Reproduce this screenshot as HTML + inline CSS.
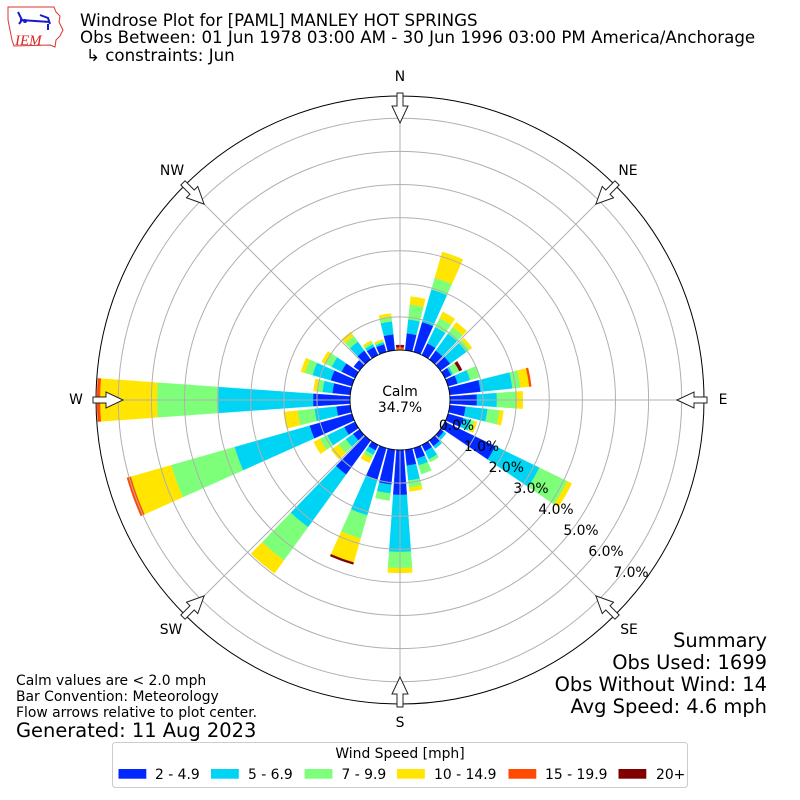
<!DOCTYPE html>
<html><head><meta charset="utf-8"><style>
html,body{margin:0;padding:0;background:#fff;}
svg{display:block;font-family:"DejaVu Sans","Liberation Sans",sans-serif;}
</style></head><body>
<svg id="s" width="800" height="800" viewBox="0 0 800 800" xmlns="http://www.w3.org/2000/svg">
<rect width="800" height="800" fill="#fff"/>
<!-- logo -->
<g>
<path d="M8,7 L54,7 L56,12 L60,16 L59,22 L63,30 L60,36 L56,40 L55,47 L50,45 L14,46 L12,40 L10,30 L8,20 Z" fill="none" stroke="#d33" stroke-width="1"/>
<path d="M20,20 L50,22" stroke="#1a1acc" stroke-width="2"/>
<path d="M18,12 L22,20 L19,24 M40,15 L48,18 L50,24 M48,24 L48,30" stroke="#1a1acc" stroke-width="2" fill="none"/>
<circle cx="25" cy="21" r="2" fill="#1a1acc"/>
<text x="15" y="45" font-family="Liberation Serif,serif" font-style="italic" font-size="15" fill="#d22">IEM</text>
</g>
<g id="bars"></g>
<g fill="none" stroke="#b0b0b0" stroke-width="1">
<circle cx="400" cy="400" r="83.1"/><circle cx="400" cy="400" r="116.2"/><circle cx="400" cy="400" r="149.3"/>
<circle cx="400" cy="400" r="182.4"/><circle cx="400" cy="400" r="215.5"/><circle cx="400" cy="400" r="248.6"/>
<circle cx="400" cy="400" r="281.7"/>
<line x1="400" y1="350" x2="400" y2="96"/><line x1="435.36" y1="364.64" x2="614.96" y2="185.04"/>
<line x1="450" y1="400" x2="704" y2="400"/><line x1="435.36" y1="435.36" x2="614.96" y2="614.96"/>
<line x1="400" y1="450" x2="400" y2="704"/><line x1="364.64" y1="435.36" x2="185.04" y2="614.96"/>
<line x1="350" y1="400" x2="96" y2="400"/><line x1="364.64" y1="364.64" x2="185.04" y2="185.04"/>
</g>
<circle cx="400" cy="400" r="50" fill="#fff" stroke="#000" stroke-width="0.9"/>
<circle cx="400" cy="400" r="304" fill="none" stroke="#000" stroke-width="1"/>
<g fill="#fff" stroke="#222" stroke-width="1">
<polygon points="400,123 408,106 403,106 403,93 397,93 397,106 392,106"/>
<polygon points="400,123 408,106 403,106 403,93 397,93 397,106 392,106" transform="rotate(45 400 400)"/>
<polygon points="400,123 408,106 403,106 403,93 397,93 397,106 392,106" transform="rotate(90 400 400)"/>
<polygon points="400,123 408,106 403,106 403,93 397,93 397,106 392,106" transform="rotate(135 400 400)"/>
<polygon points="400,123 408,106 403,106 403,93 397,93 397,106 392,106" transform="rotate(180 400 400)"/>
<polygon points="400,123 408,106 403,106 403,93 397,93 397,106 392,106" transform="rotate(225 400 400)"/>
<polygon points="400,123 408,106 403,106 403,93 397,93 397,106 392,106" transform="rotate(270 400 400)"/>
<polygon points="400,123 408,106 403,106 403,93 397,93 397,106 392,106" transform="rotate(315 400 400)"/>
</g>
<g font-size="13.9" text-anchor="middle" fill="#000">
<text x="400" y="81">N</text>
<text x="628" y="175">NE</text>
<text x="723" y="404">E</text>
<text x="629" y="634">SE</text>
<text x="400" y="727">S</text>
<text x="171" y="634">SW</text>
<text x="76" y="404">W</text>
<text x="172" y="175">NW</text>
<text x="400" y="396">Calm</text>
<text x="400" y="412">34.7%</text>
<text x="456.5" y="430">0.0%</text>
<text x="481.5" y="451">1.0%</text>
<text x="506.3" y="472">2.0%</text>
<text x="531" y="493">3.0%</text>
<text x="556" y="514">4.0%</text>
<text x="581" y="535">5.0%</text>
<text x="606" y="556">6.0%</text>
<text x="631" y="577">7.0%</text>
</g>
<g font-size="16.67" fill="#000">
<text x="80" y="26">Windrose Plot for [PAML] MANLEY HOT SPRINGS</text>
<text x="80" y="43">Obs Between: 01 Jun 1978 03:00 AM - 30 Jun 1996 03:00 PM America/Anchorage</text>
<text x="86" y="61">↳ constraints: Jun</text>
</g>
<g font-size="13.9" fill="#000">
<text x="16" y="685">Calm values are &lt; 2.0 mph</text>
<text x="16" y="701">Bar Convention: Meteorology</text>
<text x="16" y="717">Flow arrows relative to plot center.</text>
</g>
<text x="16" y="737" font-size="19.44" fill="#000">Generated: 11 Aug 2023</text>
<g font-size="19.44" text-anchor="end" fill="#000">
<text x="767" y="647">Summary</text>
<text x="767" y="669">Obs Used: 1699</text>
<text x="767" y="691">Obs Without Wind: 14</text>
<text x="767" y="713">Avg Speed: 4.6 mph</text>
</g>
<rect x="112.5" y="742.5" width="575" height="45" rx="3" fill="#fff" stroke="#cccccc" stroke-width="1"/>
<text x="400" y="758" font-size="13.9" text-anchor="middle">Wind Speed [mph]</text>
<rect x="118.5" y="769" width="27.8" height="9.7" fill="#0028ff"/>
<rect x="211" y="769" width="27.8" height="9.7" fill="#00d4f5"/>
<rect x="304.6" y="769" width="27.8" height="9.7" fill="#7dff7a"/>
<rect x="397" y="769" width="27.8" height="9.7" fill="#ffe500"/>
<rect x="508.5" y="769" width="27.8" height="9.7" fill="#ff4a00"/>
<rect x="618.5" y="769" width="27.8" height="9.7" fill="#800000"/>
<g font-size="13.9" fill="#000">
<text x="155" y="779">2 - 4.9</text>
<text x="248" y="779">5 - 6.9</text>
<text x="341.5" y="779">7 - 9.9</text>
<text x="434" y="779">10 - 14.9</text>
<text x="545" y="779">15 - 19.9</text>
<text x="656" y="779">20+</text>
</g>
</svg>
<script>
(function(){
var C=["#0028ff","#00d4f5","#7dff7a","#ffe500","#ff4a00","#800000"];
var D={0:[50,50,50,51,53,55],10:[67,81,96,104],20:[81,115,127,154],30:[63,81,91,98],40:[61,82,90,96],
50:[62,82,86,89],60:[57,59,66,66,66,69],70:[60,73,83],80:[81,113,121,130,132],90:[77,97,117,123],
100:[66,88,100,104],110:[66,74,77,80],120:[106,155,186,191],130:[54,57],140:[57,60],150:[57,66,69],
160:[61,68,77],170:[66,81,88,92],180:[95,152,168,173],190:[85,94,101],200:[83,120,144,169,169,171],
210:[56,61,65,70],220:[92,157,198,214],230:[58,67,76,85],240:[62,81,89,96],250:[94,172,238,280,284],
260:[64,86,103,117],270:[87,182,243,300,303],280:[68,78,83,87],290:[72,91,99,103],300:[65,76,83,87],
310:[57],320:[61,72,79,84],330:[59,62,64,66],340:[58,60,61.5,63],350:[66,79,84,87]};
function P(r,a){return (400+r*Math.sin(a)).toFixed(2)+","+(400-r*Math.cos(a)).toFixed(2);}
var s="";
for(var k in D){
 var d=+k,a1=(d-4.1)*Math.PI/180,a2=(d+4.1)*Math.PI/180,prev=50,arr=D[k];
 for(var i=0;i<arr.length;i++){
  var r=arr[i]; if(r>prev){
   s+='<path d="M'+P(prev,a1)+' L'+P(r,a1)+' A'+r+' '+r+' 0 0 1 '+P(r,a2)+' L'+P(prev,a2)+' A'+prev+' '+prev+' 0 0 0 '+P(prev,a1)+' Z" fill="'+C[i]+'" stroke="'+C[i]+'" stroke-width="0.3"/>';
   prev=r;}
 }
}
document.getElementById("bars").innerHTML=s;
})();
</script>
</body></html>
